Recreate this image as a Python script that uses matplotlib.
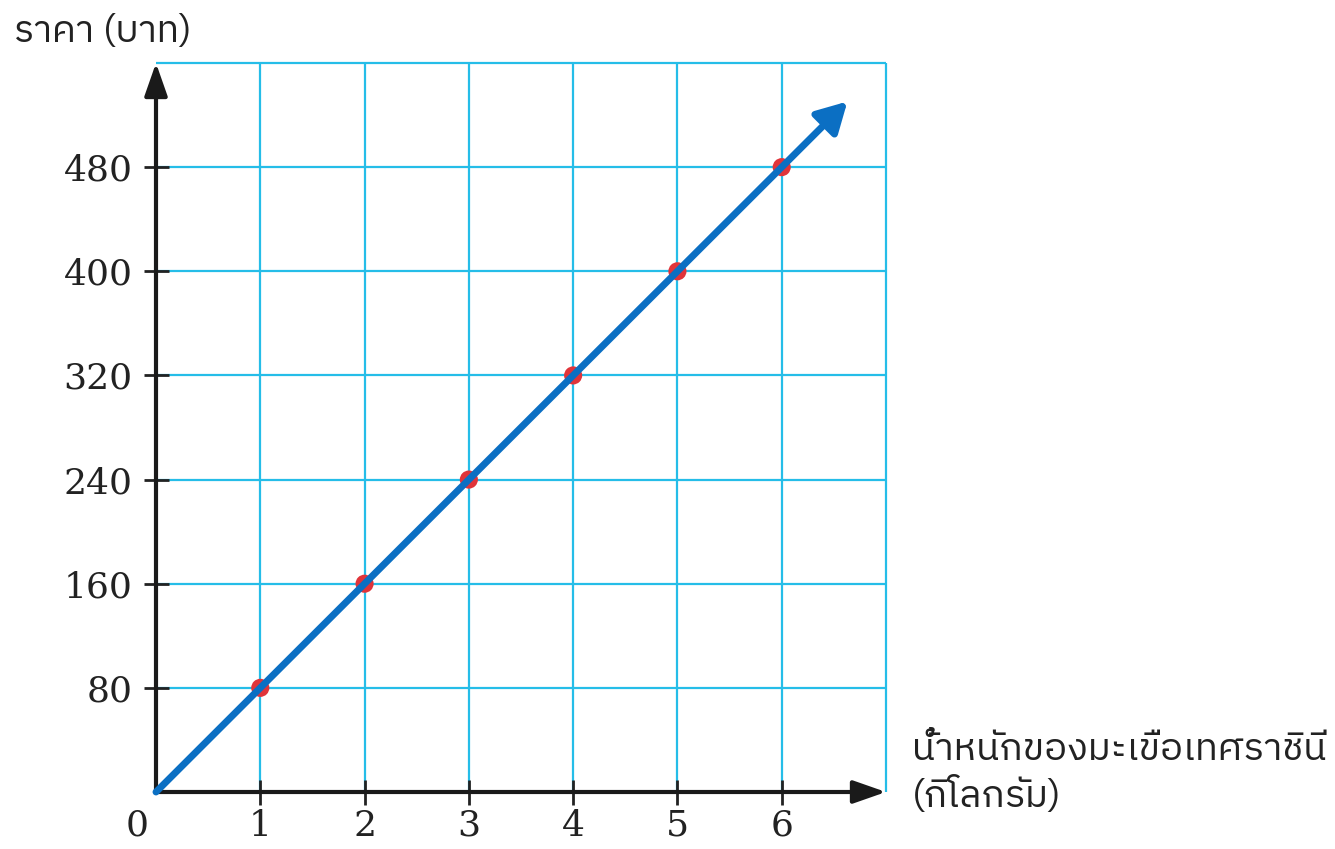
import matplotlib
matplotlib.use("Agg")
import matplotlib.pyplot as plt
from matplotlib import font_manager
from matplotlib import ft2font

# ---- data ----
weights = [1, 2, 3, 4, 5, 6]            # kg
prices = [80, 160, 240, 320, 400, 480]  # baht
x_ticks = [1, 2, 3, 4, 5, 6]
y_ticks = [80, 160, 240, 320, 400, 480]
x_max, y_max = 7, 560
y_step = 80
x_label = "น้ำหนักของมะเขือเทศราชินี\n(กิโลกรัม)"
y_label = "ราคา (บาท)"

# ---- find a font with Thai glyphs ----
thai_family = None
cands = []
for f in font_manager.fontManager.ttflist:
    try:
        ff = ft2font.FT2Font(f.fname)
        if ff.get_char_index(0x0E23) and ff.get_char_index(0x0E19):
            cands.append(f.name)
    except Exception:
        pass
pref = [n for n in cands if "Sans" in n and "Thai" in n] + [n for n in cands if "Thai" in n] + cands
if pref:
    thai_family = pref[0]
thai_fonts = ([thai_family] if thai_family else []) + ["DejaVu Sans"]

W, H = 1335, 849
fig = plt.figure(figsize=(W / 100, H / 100), dpi=100)
x0, x1 = 156, 886
y0, y1 = 792, 63
ax = fig.add_axes([x0 / W, 1 - y0 / H, (x1 - x0) / W, (y0 - y1) / H])
ax.set_xlim(0, x_max)
ax.set_ylim(0, y_max)

grid_c = "#25bde8"
for s in ax.spines.values():
    s.set_visible(False)

# grid
gx = list(range(1, x_max + 1))
gy = list(range(y_step, y_max + 1, y_step))
ax.vlines(gx, 0, y_max, color=grid_c, lw=1.6, zorder=1, clip_on=False)
ax.hlines(gy, 0, x_max, color=grid_c, lw=1.6, zorder=1, clip_on=False)

ax.set_xticks(x_ticks)
ax.set_yticks(y_ticks)
ax.set_xticklabels([str(v) for v in x_ticks])
ax.set_yticklabels([str(v) for v in y_ticks])
ax.tick_params(direction="inout", length=18, width=2, color="#222222",
               labelsize=26, labelcolor="#222222")
ax.tick_params(axis="y", pad=8)
ax.tick_params(axis="x", pad=3)
for lab in ax.get_xticklabels() + ax.get_yticklabels():
    lab.set_fontfamily("DejaVu Serif")

# origin label
ax.text(-0.07, -13, "0", ha="right", va="top", fontsize=26, family="DejaVu Serif",
        color="#222222", clip_on=False)

# axes arrows
ax.annotate("", xy=(x_max, 0), xytext=(0, 0),
            arrowprops=dict(arrowstyle="-|>,head_length=2.0,head_width=0.7", color="#1a1a1a",
                            lw=3, shrinkA=0, shrinkB=0), annotation_clip=False, zorder=4)
ax.annotate("", xy=(0, y_max), xytext=(0, 0),
            arrowprops=dict(arrowstyle="-|>,head_length=2.0,head_width=0.7", color="#1a1a1a",
                            lw=3, shrinkA=0, shrinkB=0), annotation_clip=False, zorder=4)

# points
ax.scatter(weights, prices, s=170, color="#e0343a", zorder=5, clip_on=False, edgecolors="none")

# blue line with arrow
rate = prices[-1] / weights[-1]
x_end = 6.63
ax.annotate("", xy=(x_end, rate * x_end), xytext=(0, 0),
            arrowprops=dict(arrowstyle="-|>,head_length=1.8,head_width=1.0", color="#0b6fc3",
                            lw=5, shrinkA=0, shrinkB=0), annotation_clip=False, zorder=6)

# labels
fig.text(14 / W, 1 - 32 / H, y_label, ha="left", va="center", fontsize=27,
         family=thai_fonts, color="#222222")
fig.text(912 / W, 1 - 774 / H, x_label, ha="left", va="center", fontsize=27.5,
         family=thai_fonts, color="#222222", linespacing=1.3)

fig.savefig("out.png", dpi=100)
